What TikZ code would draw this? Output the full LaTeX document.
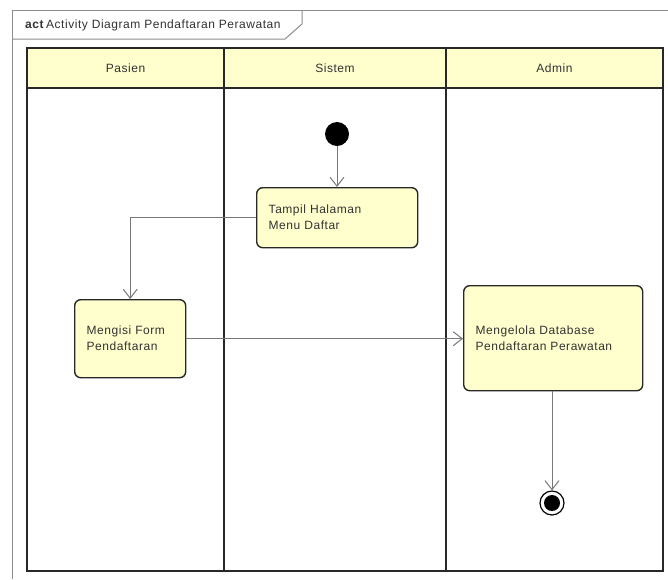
\documentclass[tikz,border=0pt]{standalone}
\usepackage{fontspec}
\setmainfont{Liberation Sans}[LetterSpace=4.5]
\usetikzlibrary{arrows.meta}
\definecolor{umlyellow}{RGB}{255,255,206}
\definecolor{lanegray}{RGB}{40,40,40}
\definecolor{framegray}{RGB}{140,140,140}
\definecolor{flowgray}{RGB}{120,120,120}
\definecolor{txt}{RGB}{50,50,50}
\tikzset{
  x=1pt, y=-1pt,
  every node/.style={font=\fontsize{12}{16}\selectfont, text=txt},
  action/.style={draw=lanegray, line width=1.4pt, fill=umlyellow, rounded corners=6pt,
    align=left, inner xsep=12pt, inner ysep=2pt, anchor=north west},
  flow/.style={draw=flowgray, line width=1pt, -{Straight Barb[length=9pt,width=14pt,line width=1pt]}},
  lane/.style={draw=lanegray, line width=1.6pt},
  frameline/.style={draw=framegray, line width=1pt},
}
\begin{document}
\begin{tikzpicture}
\useasboundingbox (0,0) rectangle (668,579);
\fill[white] (0,0) rectangle (668,579);
% outer frame
\draw[frameline] (12,579) -- (12,10) -- (668,10);
\draw[frameline] (12,39) -- (285,39) -- (302,24) -- (302,10);
\node[anchor=west, inner sep=0pt] (title) at (25,25) {\textbf{act}\,Activity Diagram Pendaftaran Perawatan};
% swimlanes
\fill[umlyellow] (27,48) rectangle (663,88);
\draw[lane] (27,48) rectangle (663,571);
\draw[lane] (27,88) -- (663,88);
\draw[lane] (224,48) -- (224,571);
\draw[lane] (446,48) -- (446,571);
\node (h1) at (125.5,68) {Pasien};
\node (h2) at (335,68) {Sistem};
\node (h3) at (554.5,68) {Admin};
% nodes
\node[circle, fill=black, minimum size=24pt, inner sep=0pt] (start) at (337,134) {};
\node[action, text width=137pt, minimum height=60pt] (tampil) at (256,187) {Tampil Halaman\\Menu Daftar};
\node[action, text width=87pt, minimum height=78pt] (mengisi) at (74,299) {Mengisi Form\\Pendaftaran};
\node[action, text width=155pt, minimum height=105pt] (kelola) at (463,285) {Mengelola Database\\Pendaftaran Perawatan};
\node[circle, draw=black, line width=1.2pt, fill=white, minimum size=24pt, inner sep=0pt] (end) at (552,503) {};
\node[circle, fill=black, minimum size=16pt, inner sep=0pt] (endin) at (end) {};
% flows
\draw[flow] (start) -- (tampil.north -| start);
\draw[flow] (tampil.west) -| (mengisi.north);
\draw[flow] (mengisi.east) -- (kelola.west |- mengisi.east);
\draw[flow] (kelola.south -| end) -- (end.north);
\end{tikzpicture}
\end{document}
